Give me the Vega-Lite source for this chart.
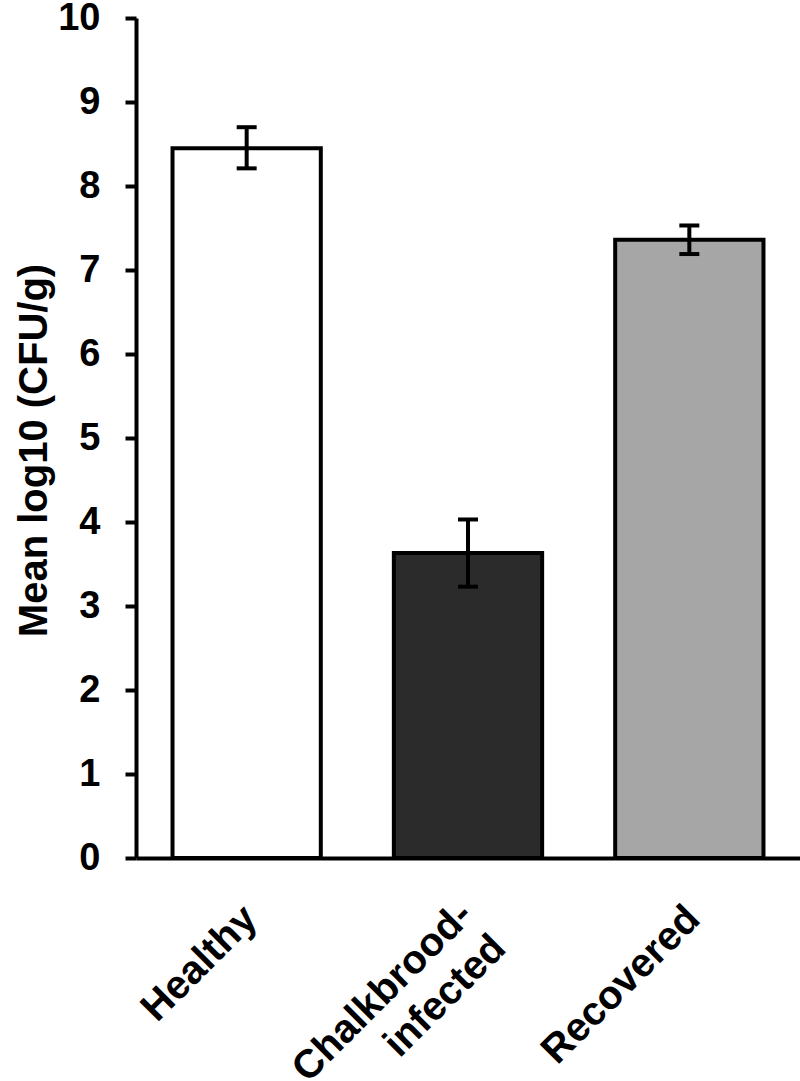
{
  "$schema": "https://vega.github.io/schema/vega-lite/v6.json",
  "width": 664,
  "height": 840,
  "autosize": {"type": "none"},
  "padding": {"left": 136, "top": 18, "right": 0, "bottom": 223},
  "background": "white",
  "config": {"view": {"stroke": null}, "font": "Liberation Sans"},
  "data": {
    "values": [
      {"group": "Healthy", "mean": 8.45, "lo": 8.21, "hi": 8.7},
      {"group": "Chalkbrood-|infected", "mean": 3.63, "lo": 3.23, "hi": 4.03},
      {"group": "Recovered", "mean": 7.36, "lo": 7.19, "hi": 7.53}
    ]
  },
  "encoding": {
    "x": {
      "field": "group",
      "type": "nominal",
      "sort": null,
      "scale": {"paddingInner": 0.33, "paddingOuter": 0.165},
      "axis": {
        "title": null,
        "ticks": false,
        "domainColor": "black",
        "domainWidth": 4,
        "labelAngle": -45,
        "labelAlign": "right",
        "labelBaseline": "top",
        "labelFontSize": 40,
        "labelFontWeight": "bold",
        "labelColor": "black",
        "labelLimit": 0,
        "labelPadding": {"condition": {"test": "datum.value == 'Chalkbrood-|infected'", "value": 36}, "value": 40},
        "labelOffset": {"condition": {"test": "datum.value == 'Chalkbrood-|infected'", "value": -16}, "value": -10},
        "labelLineHeight": 47,
        "labelExpr": "split(datum.label, '|')"
      }
    }
  },
  "layer": [
    {
      "mark": {"type": "bar", "stroke": "black", "strokeWidth": 4},
      "encoding": {
        "y": {
          "field": "mean",
          "type": "quantitative",
          "title": "Mean log10 (CFU/g)",
          "scale": {"domain": [0, 10]},
          "axis": {
            "values": [0, 1, 2, 3, 4, 5, 6, 7, 8, 9, 10],
            "format": "d",
            "grid": false,
            "domainColor": "black",
            "domainWidth": 4,
            "tickColor": "black",
            "tickWidth": 4,
            "tickSize": 11,
            "labelFontSize": 38,
            "labelFontWeight": "bold",
            "labelColor": "black",
            "labelPadding": 25,
            "titleFontSize": 40,
            "titleFontWeight": "bold",
            "titleColor": "black",
            "titleAngle": -90,
            "titleX": -102,
            "titleY": 432,
            "titleAlign": "center",
            "titleBaseline": "middle"
          }
        },
        "fill": {
          "field": "group",
          "type": "nominal",
          "scale": {"domain": ["Healthy", "Chalkbrood-|infected", "Recovered"], "range": ["#ffffff", "#2b2b2b", "#a6a6a6"]},
          "legend": null
        }
      }
    },
    {
      "mark": {
        "type": "errorbar",
        "color": "black",
        "thickness": 4,
        "ticks": {"size": 20, "color": "black", "opacity": 1},
        "rule": {"color": "black", "opacity": 1}
      },
      "encoding": {
        "y": {"field": "lo", "type": "quantitative", "title": "Mean log10 (CFU/g)"},
        "y2": {"field": "hi"}
      }
    }
  ]
}
